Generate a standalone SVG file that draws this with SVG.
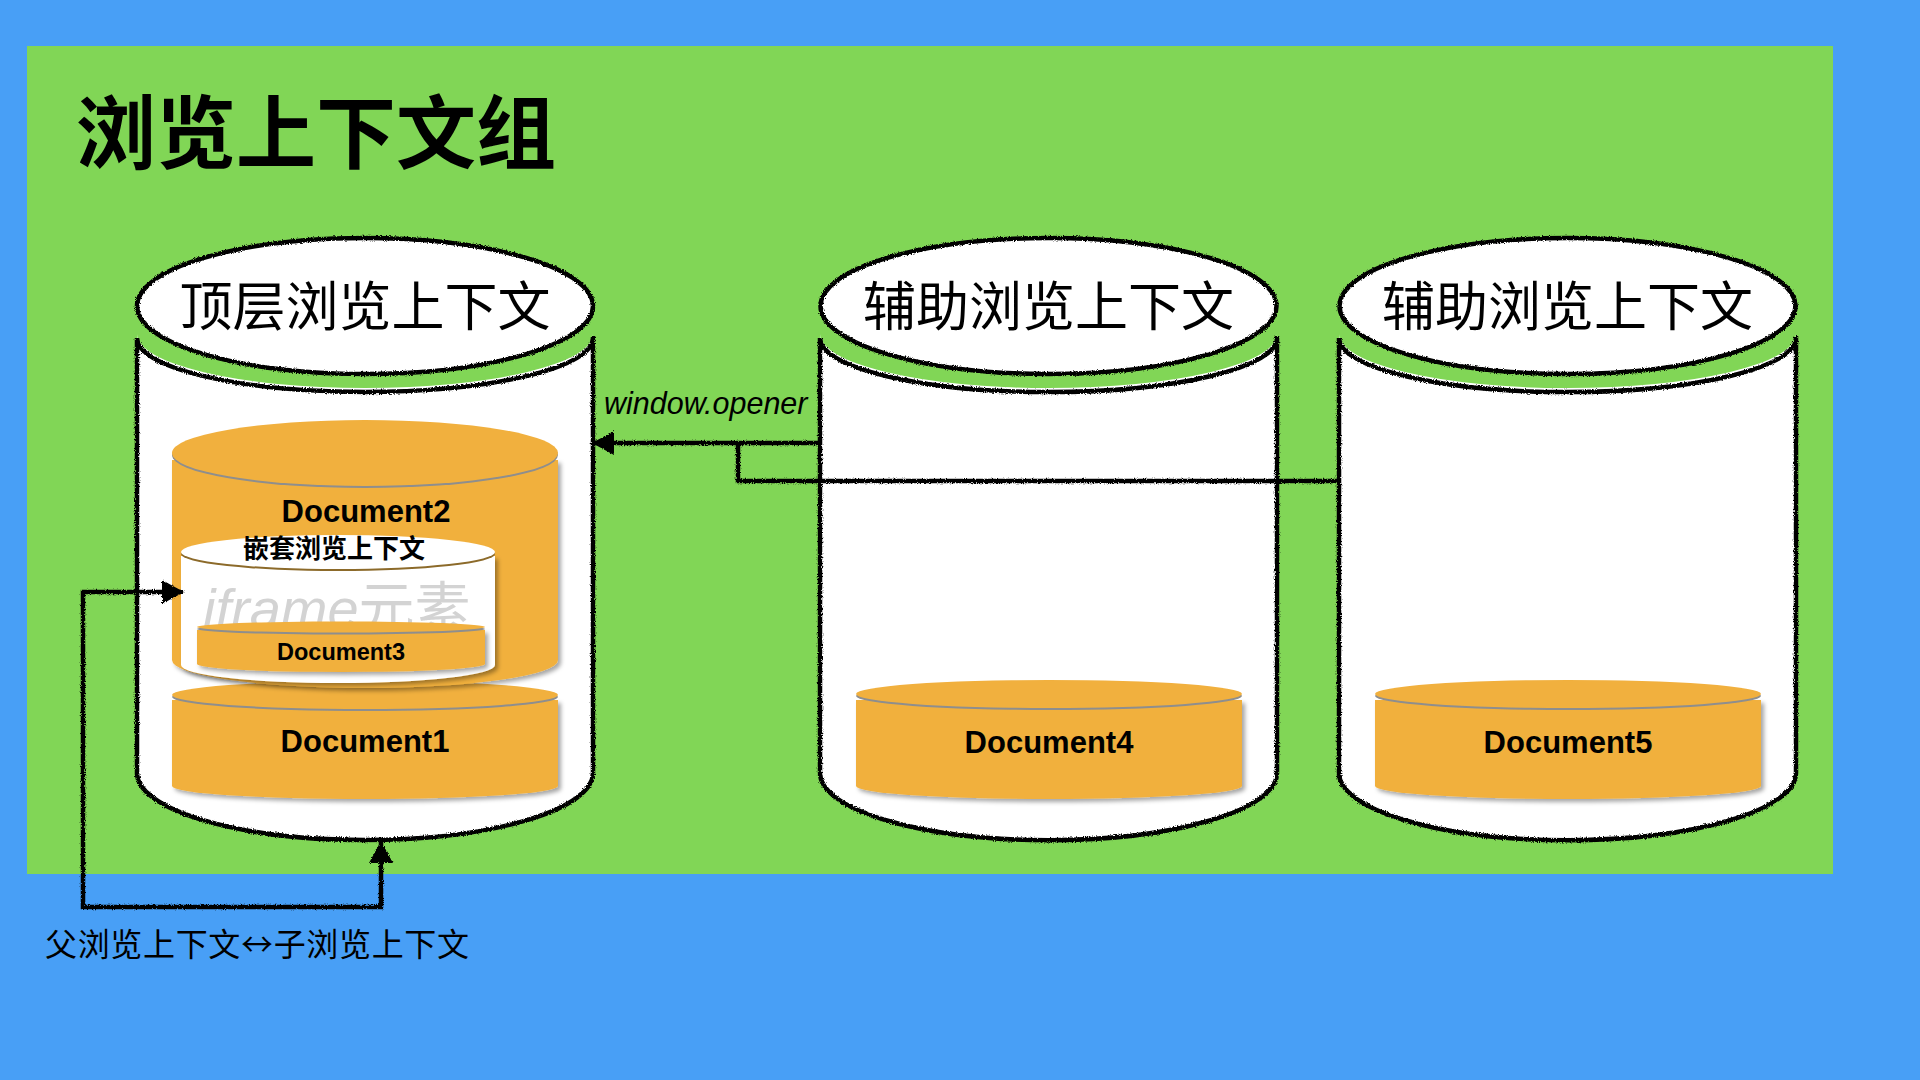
<svg xmlns="http://www.w3.org/2000/svg" width="1920" height="1080" viewBox="0 0 1920 1080">
<style>
.cjk{font-family:"Noto Sans CJK SC","Noto Sans",sans-serif;}
.lat{font-family:"Liberation Sans",Arial,sans-serif;}
.lidtxt{font-size:53px;fill:#000;text-anchor:middle;}
.big{fill:#fff;stroke:none;}
.out{fill:none;stroke:#000;stroke-width:4.5;stroke-linejoin:round;}
.org{fill:#F1B03E;}
.doctxt{font-weight:bold;fill:#000;text-anchor:middle;}
.conn{fill:none;stroke:#000;stroke-width:4.5;}
</style>
<defs>
<filter id="rough" filterUnits="userSpaceOnUse" x="0" y="0" width="1920" height="1080">
<feTurbulence type="fractalNoise" baseFrequency="0.9" numOctaves="2" seed="4" result="n"/>
<feDisplacementMap in="SourceGraphic" in2="n" scale="3.5" xChannelSelector="R" yChannelSelector="G"/>
</filter>
<filter id="shadow" x="-10%" y="-10%" width="125%" height="130%">
<feDropShadow dx="3" dy="3" stdDeviation="2" flood-color="#000" flood-opacity="0.35"/>
</filter>
<marker id="arrow" viewBox="0 0 22 24" refX="21" refY="12" markerWidth="22" markerHeight="24" markerUnits="userSpaceOnUse" orient="auto-start-reverse">
<path d="M0,0 L22,12 L0,24 Z" fill="#000"/>
</marker>
</defs>
<rect x="0" y="0" width="1920" height="1080" fill="#489FF6"/>
<rect x="27" y="46" width="1806" height="828" fill="#81D656"/>
<g id="title"><text x="76" y="162" class="cjk" font-size="80" font-weight="bold" fill="#000">浏览上下文组</text></g>

<g id="cyl-top">
<path class="big" d="M137,334 A228,54 0 0 0 593,334 L593,773 A228,67 0 0 1 137,773 Z"/>
<path class="out" filter="url(#rough)" d="M137,338 A228,54 0 0 0 593,338 M593,336 L593,773 A228,67 0 0 1 137,773 L137,338"/>
<ellipse cx="365" cy="306" rx="228" ry="68" fill="#fff"/>
<ellipse class="out" filter="url(#rough)" cx="365" cy="306" rx="228" ry="68"/>
<text x="365" y="326" class="cjk lidtxt">顶层浏览上下文</text>
</g>
<g id="cyl-aux1">
<path class="big" d="M820,334 A228,54 0 0 0 1277,334 L1277,773 A228,67 0 0 1 820,773 Z"/>
<path class="out" filter="url(#rough)" d="M820,338 A228,54 0 0 0 1277,338 M1277,336 L1277,773 A228,67 0 0 1 820,773 L820,338"/>
<ellipse cx="1048.5" cy="306" rx="228" ry="68" fill="#fff"/>
<ellipse class="out" filter="url(#rough)" cx="1048.5" cy="306" rx="228" ry="68"/>
<text x="1048.5" y="326" class="cjk lidtxt">辅助浏览上下文</text>
</g>
<g id="cyl-aux2">
<path class="big" d="M1339,334 A228,54 0 0 0 1796,334 L1796,773 A228,67 0 0 1 1339,773 Z"/>
<path class="out" filter="url(#rough)" d="M1339,338 A228,54 0 0 0 1796,338 M1796,336 L1796,773 A228,67 0 0 1 1339,773 L1339,338"/>
<ellipse cx="1567.5" cy="306" rx="228" ry="68" fill="#fff"/>
<ellipse class="out" filter="url(#rough)" cx="1567.5" cy="306" rx="228" ry="68"/>
<text x="1567.5" y="326" class="cjk lidtxt">辅助浏览上下文</text>
</g>

<g id="doc1">
<path class="org" filter="url(#shadow)" d="M172,700 L172,786 A193,13 0 0 0 558,786 L558,700 Z"/>
<ellipse cx="365" cy="697" rx="193" ry="14" fill="#8E8E8E"/>
<ellipse cx="365" cy="695" rx="193" ry="14" class="org"/>
<text x="365" y="752" class="lat doctxt" font-size="31">Document1</text>
</g>
<g id="doc2">
<path class="org" filter="url(#shadow)" d="M172,460 L172,660 A193,28 0 0 0 558,660 L558,460 Z"/>
<ellipse cx="365" cy="455" rx="193" ry="33" fill="#8E8E8E"/>
<ellipse cx="365" cy="453" rx="193" ry="33" class="org"/>
<text x="366" y="522" class="lat doctxt" font-size="31">Document2</text>
</g>
<g id="nested">
<path fill="#fff" filter="url(#shadow)" d="M181,556 L181,665 A157,18 0 0 0 495,665 L495,556 Z"/>
<ellipse cx="338" cy="554" rx="157" ry="17" fill="#8C6A2A"/>
<ellipse cx="338" cy="552" rx="157" ry="17" fill="#fff"/>
<text x="334" y="558" class="cjk" font-size="26" font-weight="bold" text-anchor="middle" fill="#000">嵌套浏览上下文</text>
<text x="203" y="628" font-size="56" fill="#D3D3D3"><tspan class="lat" font-style="italic">iframe</tspan><tspan class="cjk">元素</tspan></text>
</g>
<g id="doc3">
<path class="org" filter="url(#shadow)" d="M197,630 L197,664 A144,8 0 0 0 485,664 L485,630 Z"/>
<ellipse cx="341" cy="629" rx="144" ry="5.5" fill="#8E8E8E"/>
<ellipse cx="341" cy="627" rx="144" ry="5.5" class="org"/>
<text x="341" y="660" class="lat doctxt" font-size="23.5">Document3</text>
</g>
<g id="doc4">
<path class="org" filter="url(#shadow)" d="M856,700 L856,786 A193,13 0 0 0 1242,786 L1242,700 Z"/>
<ellipse cx="1049" cy="696" rx="193" ry="14" fill="#8E8E8E"/>
<ellipse cx="1049" cy="694" rx="193" ry="14" class="org"/>
<text x="1049" y="753" class="lat doctxt" font-size="31">Document4</text>
</g>
<g id="doc5">
<path class="org" filter="url(#shadow)" d="M1375,700 L1375,786 A193,13 0 0 0 1761,786 L1761,700 Z"/>
<ellipse cx="1568" cy="696" rx="193" ry="14" fill="#8E8E8E"/>
<ellipse cx="1568" cy="694" rx="193" ry="14" class="org"/>
<text x="1568" y="753" class="lat doctxt" font-size="31">Document5</text>
</g>

<g id="connectors" filter="url(#rough)">
<path class="conn" d="M820,443 L593,443" marker-end="url(#arrow)"/>
<path class="conn" d="M1339,481 L738,481 L738,443"/>
<path class="conn" d="M183,592 L83,592 L83,907 L381,907 L381,842" marker-start="url(#arrow)" marker-end="url(#arrow)"/>
</g>
<g id="labels">
<text x="604" y="414" class="lat" font-size="30.5" font-style="italic" fill="#000">window.opener</text>
<text x="45" y="956" class="cjk" font-size="32" fill="#000" textLength="424">父浏览上下文↔子浏览上下文</text>
</g>
</svg>
